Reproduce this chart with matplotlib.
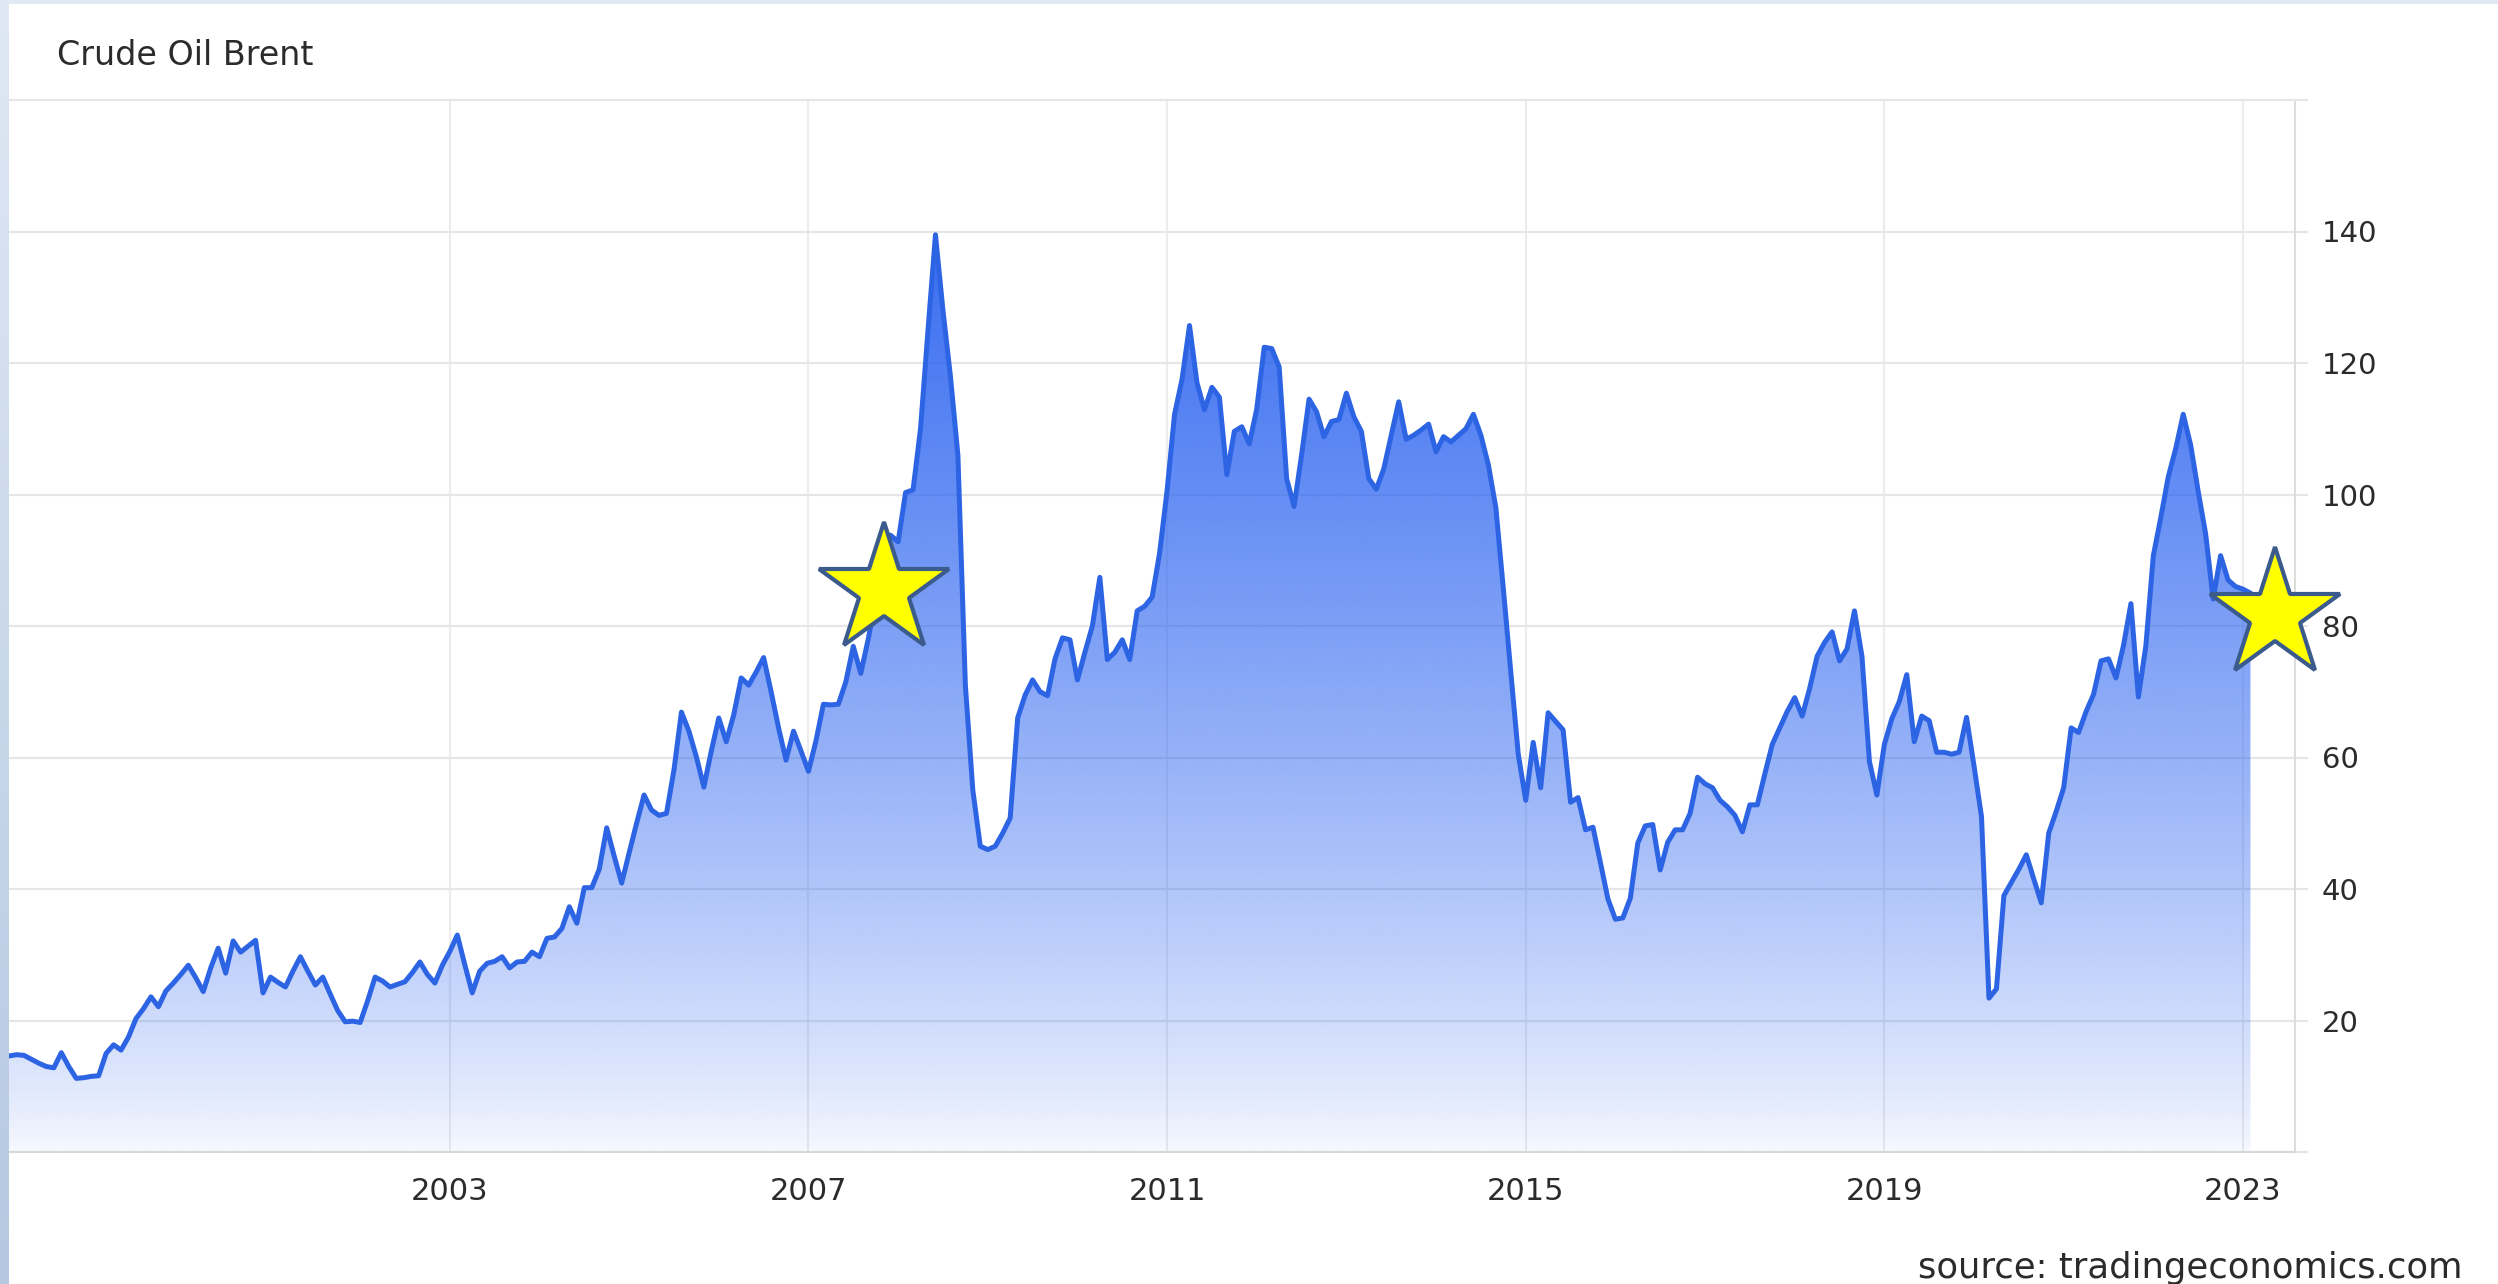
import numpy as np
import matplotlib
matplotlib.use("Agg")
import matplotlib.pyplot as plt
from matplotlib.colors import to_rgb
from matplotlib.patches import Polygon, Rectangle

# ---- data: Brent crude, monthly, Feb 1998 - Feb 2023 (USD/bbl) ----
p1998 = [14.6, 14.8, 14.7, 14.1, 13.5, 13.0, 12.8, 15.1, 13.0, 11.2, 11.3]
p1999 = [11.5, 11.6, 15.0, 16.3, 15.5, 17.5, 20.3, 21.8, 23.6, 22.1, 24.5, 25.7]
p2000 = [27.0, 28.4, 26.5, 24.4, 28.0, 31.0, 27.2, 32.1, 30.4, 31.3, 32.2, 24.2]
p2001 = [26.6, 25.8, 25.1, 27.5, 29.7, 27.5, 25.4, 26.6, 24.0, 21.5, 19.8, 19.9]
p2002 = [19.7, 23.0, 26.6, 26.0, 25.1, 25.5, 25.9, 27.3, 28.9, 27.0, 25.7, 28.4]
p2003 = [30.5, 33.0, 28.5, 24.2, 27.5, 28.7, 29.0, 29.7, 28.0, 28.9, 29.0, 30.4]
p2004 = [29.7, 32.5, 32.7, 34.0, 37.3, 34.8, 40.2, 40.2, 43.0, 49.3, 45.0, 40.9]
p2005 = [45.5, 50.0, 54.3, 52.0, 51.2, 51.5, 58.1, 66.9, 64.0, 60.1, 55.5, 61.0]
p2006 = [66.0, 62.4, 66.5, 72.1, 71.0, 73.0, 75.2, 70.0, 64.5, 59.6, 64.0, 61.0]
p2007 = [57.9, 62.5, 68.1, 68.0, 68.1, 71.5, 76.9, 72.8, 78.0, 84.0, 88.0, 93.8]
p2008 = [92.8, 100.3, 100.7, 110.0, 125.0, 139.5, 128.0, 118.0, 106.0, 71.0, 55.0, 46.5]
p2009 = [46.0, 46.5, 48.5, 50.8, 66.0, 69.5, 71.8, 70.0, 69.4, 75.0, 78.2, 77.9]
p2010 = [71.8, 76.0, 80.0, 87.4, 74.9, 76.0, 77.9, 74.9, 82.3, 83.0, 84.4, 91.1]
p2011 = [100.6, 112.2, 117.5, 125.7, 117.0, 112.9, 116.3, 114.8, 103.0, 109.6, 110.3, 107.7]
p2012 = [113.0, 122.4, 122.2, 119.4, 102.4, 98.2, 106.0, 114.5, 112.6, 108.8, 111.1, 111.4]
p2013 = [115.4, 111.8, 109.6, 102.4, 100.8, 103.9, 109.0, 114.1, 108.4, 109.0, 109.8, 110.7]
p2014 = [106.5, 108.8, 108.0, 109.0, 110.0, 112.2, 109.0, 104.5, 98.0, 85.7, 73.0, 60.5]
p2015 = [53.5, 62.3, 55.4, 66.8, 65.5, 64.2, 53.2, 53.9, 49.0, 49.4, 44.0, 38.5]
p2016 = [35.4, 35.6, 38.6, 47.0, 49.6, 49.8, 42.9, 47.1, 49.0, 49.0, 51.5, 57.0]
p2017 = [56.0, 55.4, 53.5, 52.5, 51.2, 48.7, 52.8, 52.8, 57.5, 62.0, 64.5, 67.0]
p2018 = [69.1, 66.3, 70.5, 75.4, 77.5, 79.1, 74.7, 76.5, 82.3, 75.4, 59.4, 54.3]
p2019 = [62.0, 65.9, 68.5, 72.6, 62.4, 66.3, 65.6, 60.8, 60.8, 60.5, 60.8, 66.1]
p2020 = [58.7, 51.0, 23.4, 24.8, 39.0, 41.0, 43.0, 45.2, 41.5, 37.9, 48.5, 51.8]
p2021 = [55.4, 64.5, 63.8, 67.0, 69.6, 74.7, 75.0, 72.1, 77.0, 83.4, 69.2, 77.0]
p2022 = [90.7, 96.5, 102.7, 107.0, 112.2, 107.5, 100.5, 94.0, 84.1, 90.7, 87.0, 86.0]
p2023 = [85.6, 85.0]

year_ticks = [2003, 2007, 2011, 2015, 2019, 2023]
y_ticks = [0, 20, 40, 60, 80, 100, 120, 140, 160]
y_labels = ["", "20", "40", "60", "80", "100", "120", "140", ""]
star_x = [2007.84, 2023.36]
star_y = [85.5, 81.7]

title = "Crude Oil Brent"
source = "source: tradingeconomics.com"

values = np.array(p1998 + p1999 + p2000 + p2001 + p2002 + p2003 + p2004 + p2005 +
                  p2006 + p2007 + p2008 + p2009 + p2010 + p2011 + p2012 + p2013 +
                  p2014 + p2015 + p2016 + p2017 + p2018 + p2019 + p2020 + p2021 +
                  p2022 + p2023)
t = 1998 + np.arange(1, len(values) + 1) / 12.0

# ---- figure ----
W, H = 2498, 1284
fig = plt.figure(figsize=(W / 100, H / 100), dpi=100)
fig.patch.set_facecolor("white")

line_color = "#2d64e4"
fill_color = "#2b63f0"
grid_color = "#e6e6e6"
text_color = "#2b2b2b"

ax = fig.add_axes([9 / W, 1 - 1152 / H, (2295 - 9) / W, (1152 - 100) / H])
ax.set_facecolor("white")

# gradient area fill clipped to the series polygon
ny = 400
yy = np.linspace(0, 160, ny)
alpha = np.clip(0.04 + 0.90 * (yy / 140.0) ** 0.8, 0, 1)
img = np.zeros((ny, 2, 4))
img[..., :3] = to_rgb(fill_color)
img[..., 3] = alpha[:, None]
im = ax.imshow(img, extent=[t[0], t[-1], 0, 160], origin="lower",
               aspect="auto", zorder=1, interpolation="bilinear")
verts = np.column_stack([np.r_[t[0], t, t[-1]], np.r_[0, values, 0]])
poly = Polygon(verts, closed=True, facecolor="none", edgecolor="none",
               transform=ax.transData)
ax.add_patch(poly)
im.set_clip_path(poly)

ax.plot(t, values, color=line_color, lw=3.6, solid_joinstyle="round",
        solid_capstyle="round", zorder=3)

# stars
ax.plot(star_x, star_y, ls="none", marker="*", ms=98, mfc="#ffff00",
        mec="#3b5b8c", mew=3, clip_on=False, zorder=6)

ax.set_xlim(t[0], 2023.58)
ax.set_ylim(0, 160)

ax.set_yticks(y_ticks)
ax.set_yticklabels(y_labels)
ax.yaxis.tick_right()
ax.tick_params(axis="y", length=9.4, width=1.5, color=grid_color, pad=10,
               labelsize=21, labelcolor=text_color)
ax.set_xticks(year_ticks)
ax.set_xticklabels([str(y) for y in year_ticks])
ax.tick_params(axis="x", length=0, pad=18, labelsize=22, labelcolor=text_color)

ax.set_axisbelow(True)
ax.grid(axis="y", color=grid_color, lw=1.5, zorder=0)
ax.grid(axis="x", color="#ececec", lw=1.5, zorder=0)

ax.spines["left"].set_visible(False)
ax.spines["top"].set_color(grid_color)
ax.spines["top"].set_linewidth(1.5)
ax.spines["right"].set_color("#dcdcdc")
ax.spines["right"].set_linewidth(1.5)
ax.spines["bottom"].set_color("#d8d8d8")
ax.spines["bottom"].set_linewidth(1.5)

# page decorations: left strip and top strip
sax = fig.add_axes([0, 0, 9 / W, 1])
g = np.linspace(0, 1, 200)[:, None]
top_c = np.array(to_rgb("#dfe8f4"))
bot_c = np.array(to_rgb("#b5c8e1"))
strip = (top_c[None, None, :] * (1 - g[..., None]) + bot_c[None, None, :] * g[..., None])
sax.imshow(strip, aspect="auto", extent=[0, 1, 0, 1])
sax.set_axis_off()
fig.add_artist(Rectangle((0, 1 - 4 / H), 1, 4 / H, transform=fig.transFigure,
                         facecolor="#dfe8f3", edgecolor="none"))

fig.text(57 / W, 1 - 65 / H, title, fontsize=24, color=text_color,
         ha="left", va="baseline")
fig.text(2463 / W, 1 - 1278 / H, source, fontsize=25.5, color=text_color,
         ha="right", va="baseline")

fig.savefig("out.png", dpi=100, facecolor="white")
